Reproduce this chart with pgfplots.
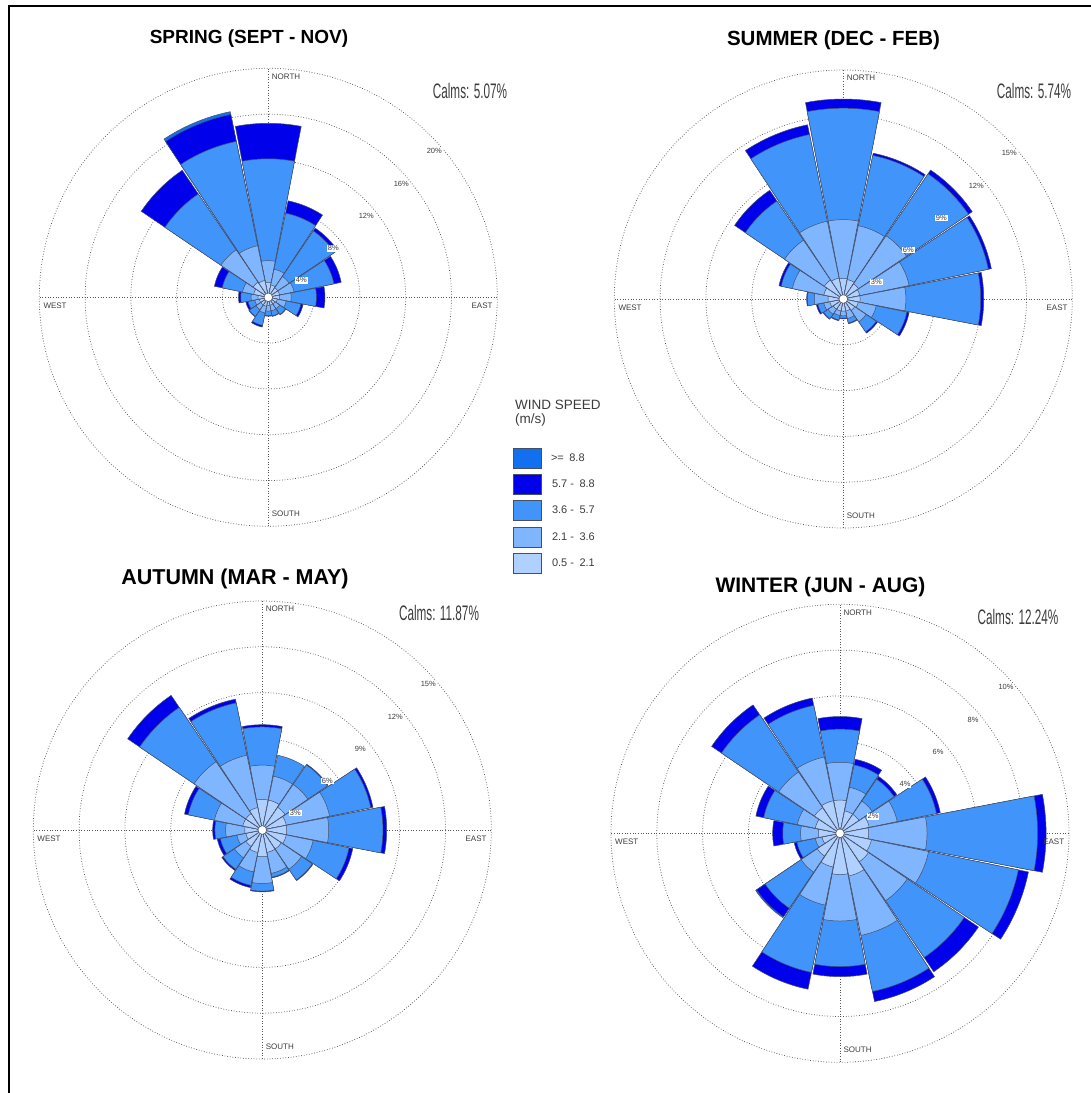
\documentclass[border=0pt]{standalone}
\usepackage{pgfplots}
\pgfplotsset{compat=1.18}
\usepackage{pgfplotstable}
\usepgfplotslibrary{polar}
\usepackage{fontspec}
\setmainfont{Liberation Sans}

\definecolor{binA}{RGB}{176,208,255}
\definecolor{binB}{RGB}{128,182,255}
\definecolor{binC}{RGB}{64,148,250}
\definecolor{binD}{RGB}{0,0,235}
\definecolor{binE}{RGB}{16,112,240}
\definecolor{edgec}{RGB}{70,80,100}
\definecolor{txt}{RGB}{60,60,60}
\definecolor{gridc}{RGB}{85,85,85}

% per-direction frequencies (%) of each speed class
% dir = compass bearing, b1: 0.5-2.1, b2: 2.1-3.6, b3: 3.6-5.7, b4: 5.7-8.8, b5: >=8.8
\pgfplotstableread{
dir   b1   b2   b3   b4   b5
0     1.3  1.9  8.9  3.1  0
22.5  1.1  1.4  5.0  1.1  0
45    1.0  1.2  4.8  0.3  0
67.5  1.0  1.3  3.55 0.65 0
90    1.0  1.0  2.2  0.75 0
112.5 0.8  0.8  1.3  0.2  0
135   0.7  0.5  0.6  0.05 0
157.5 0.7  0.5  0.45 0.05 0
180   0.7  0.5  0.4  0.05 0
202.5 0.8  0.6  1.1  0.15 0
225   0.8  0.5  0.7  0.05 0
247.5 0.8  0.4  0.6  0.2  0
270   0.9  0.6  0.9  0.2  0
292.5 1.3  1.0  1.8  0.7  0
315   1.6  3.4  5.9  2.5  0
337.5 1.5  3.1  9.3  2.4  0.25
}\springtbl

\pgfplotstableread{
dir   b1   b2   b3   b4   b5
0     1.35 3.85 7.3  0.6  0
22.5  1.3  3.6  4.7  0.15 0
45    1.2  3.8  4.9  0.3  0
67.5  1.1  3.3  5.3  0.2  0
90    1.1  3.0  4.9  0.2  0
112.5 1.0  1.2  2.05 0.15 0
135   0.9  0.9  0.8  0.1  0
157.5 0.8  0.5  0.3  0.05 0
180   0.8  0.3  0.15 0.05 0
202.5 0.8  0.3  0.3  0.05 0
225   0.8  0.4  0.35 0.05 0
247.5 0.9  0.4  0.4  0.1  0
270   1.0  0.9  0.45 0.05 0
292.5 1.3  2.1  0.75 0.15 0
315   1.5  3.15 3.1  0.85 0
337.5 1.4  3.8  5.8  0.65 0
}\summertbl

\pgfplotstableread{
dir   b1   b2   b3   b4   b5
0     2.0  2.25 2.5  0.15 0
22.5  2.0  1.6  1.4  0    0
45    1.8  1.8  1.55 0.05 0
67.5  1.6  2.9  2.75 0.15 0
90    1.6  2.75 3.55 0.25 0
112.5 1.6  1.8  2.4  0.25 0
135   1.5  1.6  0.85 0.05 0
157.5 1.5  1.4  0.25 0.05 0
180   1.75 1.75 0.5  0.05 0
202.5 1.5  1.3  0.9  0.15 0
225   1.3  0.9  0.9  0.1  0
247.5 1.1  0.6  1.1  0.2  0
270   1.15 1.25 0.7  0.15 0
292.5 1.3  1.9  1.75 0.25 0
315   1.3  4.1  4.3  0.95 0
337.5 1.5  3.5  3.5  0.25 0
}\autumntbl

\pgfplotstableread{
dir   b1   b2   b3   b4   b5
0     1.45 1.65 1.45 0.55 0
22.5  1.0  1.05 1.0  0.25 0
45    1.0  0.7  1.15 0.15 0
67.5  1.3  1.25 1.75 0.17 0
90    1.25 2.55 4.83 0.37 0
112.5 1.4  2.55 4.0  0.45 0
135   1.5  2.05 3.0  0.75 0
157.5 1.9  2.65 2.5  0.45 0
180   1.8  2.03 1.99 0.44 0
202.5 1.5  1.7  3.0  0.75 0
225   1.2  0.85 1.9  0.45 0.05
247.5 0.8  0.3  0.82 0.12 0
270   0.95 0.77 0.78 0.44 0
292.5 1.1  0.8  1.5  0.35 0
315   1.35 1.88 3.02 0.52 0
337.5 1.45 1.95 2.3  0.33 0
}\wintertbl

\def\rwhw{10.9}
% one sector from the centre out to radius #2, centred on polar angle #1
\newcommand\rosewedge[3]{%
  \gdef\rwpts{(0,0)}%
  \foreach \k in {0,...,12}{%
    \pgfmathsetmacro\rwa{#1-\rwhw+\k*\rwhw/6}%
    \xdef\rwpts{\rwpts (\rwa,#2)}%
  }%
  \xdef\rwpts{\rwpts (0,0)}%
  \edef\rwdo{\noexpand\addplot[fill=#3,draw=edgec,line width=0.5pt] coordinates {\rwpts};}%
  \rwdo
}
\newcommand\drawrose[1]{%
  \pgfplotsforeachungrouped \rwrow in {0,...,15}{%
    \pgfplotstablegetelem{\rwrow}{dir}\of{#1}\edef\rwdir{\pgfplotsretval}%
    \pgfplotstablegetelem{\rwrow}{b1}\of{#1}\edef\rwbA{\pgfplotsretval}%
    \pgfplotstablegetelem{\rwrow}{b2}\of{#1}\edef\rwbB{\pgfplotsretval}%
    \pgfplotstablegetelem{\rwrow}{b3}\of{#1}\edef\rwbC{\pgfplotsretval}%
    \pgfplotstablegetelem{\rwrow}{b4}\of{#1}\edef\rwbD{\pgfplotsretval}%
    \pgfplotstablegetelem{\rwrow}{b5}\of{#1}\edef\rwbE{\pgfplotsretval}%
    \pgfmathsetmacro\rwth{90-\rwdir}%
    \pgfmathsetmacro\rwcA{\rwbA}%
    \pgfmathsetmacro\rwcB{\rwcA+\rwbB}%
    \pgfmathsetmacro\rwcC{\rwcB+\rwbC}%
    \pgfmathsetmacro\rwcD{\rwcC+\rwbD}%
    \pgfmathsetmacro\rwcE{\rwcD+\rwbE}%
    \pgfmathtruncatemacro\rwf{\rwbE>0}\ifnum\rwf=1 \rosewedge{\rwth}{\rwcE}{binE}\fi
    \pgfmathtruncatemacro\rwf{\rwbD>0}\ifnum\rwf=1 \rosewedge{\rwth}{\rwcD}{binD}\fi
    \rosewedge{\rwth}{\rwcC}{binC}%
    \rosewedge{\rwth}{\rwcB}{binB}%
    \rosewedge{\rwth}{\rwcA}{binA}%
  }%
}

\pgfplotsset{
  windrose/.style={
    anchor=origin,
    scale only axis, width=458pt, height=458pt,
    xmin=0, xmax=360, ymin=0,
    xtick={0,90,180,270}, xticklabels={}, yticklabels={},
    grid=major,
    major grid style={line width=0.75pt, color=gridc, dash pattern=on 0.75pt off 1.9pt},
    axis line style={draw=none},
    tick style={draw=none},
    clip=false,
  },
  calmmark/.style={only marks, mark=*, mark size=4.3pt,
    mark options={fill=white, draw=edgec, line width=0.5pt}},
}

\newcommand\dirfont{\fontsize{8}{8}\selectfont}
\newcommand\ringfont{\fontsize{7.5}{7.5}\selectfont}
\newcommand\titlefont[1]{\fontsize{#1}{#1}\selectfont\bfseries}
\newcommand\calms[1]{\scalebox{0.56}[1]{\fontsize{21}{21}\selectfont #1}}

\begin{document}
\begin{tikzpicture}[x=1pt,y=1pt]
\path[use as bounding box] (0,0) rectangle (1091,-1093);
\draw[line width=2pt] (8.5,-1093) -- (8.5,-6) -- (1091,-6);

% ---------------- SPRING ----------------
\begin{polaraxis}[windrose, at={(268.3pt,-297.3pt)}, ymax=20, ytick={4,8,12,16,20}]
\drawrose{\springtbl}
\addplot[calmmark] coordinates {(0,0)};
\end{polaraxis}

% ---------------- SUMMER ----------------
\begin{polaraxis}[windrose, at={(843.3pt,-299pt)}, ymax=15, ytick={3,6,9,12,15}]
\drawrose{\summertbl}
\addplot[calmmark] coordinates {(0,0)};
\end{polaraxis}

% ---------------- AUTUMN ----------------
\begin{polaraxis}[windrose, at={(262.3pt,-830pt)}, ymax=15, ytick={3,6,9,12,15}]
\drawrose{\autumntbl}
\addplot[calmmark] coordinates {(0,0)};
\end{polaraxis}

% ---------------- WINTER ----------------
\begin{polaraxis}[windrose, at={(840pt,-833.3pt)}, ymax=10, ytick={2,4,6,8,10}]
\drawrose{\wintertbl}
\addplot[calmmark] coordinates {(0,0)};
\end{polaraxis}

% ---------------- legend ----------------
\begin{axis}[hide axis, scale only axis, width=20pt, height=20pt,
  at={(513pt,-448pt)}, anchor=north west, xmin=0, xmax=1, ymin=0, ymax=1,
  legend style={at={(0,1)}, anchor=north west, draw=none, fill=none,
    inner sep=0pt, row sep=5.3pt, font=\fontsize{11}{11}\selectfont, text=txt,
    cells={anchor=west}},
  legend image code/.code={\draw[#1] (0pt,-10pt) rectangle (28pt,10pt);}]
\addlegendimage{fill=binE, draw=edgec, line width=0.8pt}
\addlegendentry{\hspace*{7pt}>=\enspace 8.8}
\addlegendimage{fill=binD, draw=edgec, line width=0.8pt}
\addlegendentry{\hspace*{8pt}5.7 -\enspace 8.8}
\addlegendimage{fill=binC, draw=edgec, line width=0.8pt}
\addlegendentry{\hspace*{8pt}3.6 -\enspace 5.7}
\addlegendimage{fill=binB, draw=edgec, line width=0.8pt}
\addlegendentry{\hspace*{8pt}2.1 -\enspace 3.6}
\addlegendimage{fill=binA, draw=edgec, line width=0.8pt}
\addlegendentry{\hspace*{8pt}0.5 -\enspace 2.1}
\end{axis}
\node[anchor=base west, text=txt, font=\fontsize{13.5}{13.5}\selectfont] at (511.5,-409.5) {WIND SPEED};
\node[anchor=base west, text=txt, font=\fontsize{13.5}{13.5}\selectfont] at (511.5,-423) {(m/s)};

% ---------------- titles ----------------
\node[anchor=base, font=\titlefont{19}] at (249,-43) {SPRING (SEPT - NOV)};
\node[anchor=base, font=\titlefont{20.5}] at (833.5,-45) {SUMMER (DEC - FEB)};
\node[anchor=base, font=\titlefont{21.5}] at (235,-584) {AUTUMN (MAR - MAY)};
\node[anchor=base, font=\titlefont{21}] at (820.5,-592) {WINTER (JUN - AUG)};

% ---------------- calms ----------------
\node[text=txt] at (470,-91) {\calms{Calms: 5.07\%}};
\node[text=txt] at (1034,-91) {\calms{Calms: 5.74\%}};
\node[text=txt] at (439,-613) {\calms{Calms: 11.87\%}};
\node[text=txt] at (1018,-617) {\calms{Calms: 12.24\%}};

% ---------------- compass labels ----------------
\begin{scope}[every node/.style={font=\dirfont, text=txt, inner sep=0pt}]
\node[anchor=base west] at (271.7,-79) {NORTH};
\node[anchor=base west] at (271.7,-516.7) {SOUTH};
\node[anchor=base west] at (43.3,-308.3) {WEST};
\node[anchor=base east] at (492.7,-308.3) {EAST};
\node[anchor=base west] at (846.7,-80.7) {NORTH};
\node[anchor=base west] at (846.7,-518.4) {SOUTH};
\node[anchor=base west] at (618.3,-310) {WEST};
\node[anchor=base east] at (1067.7,-310) {EAST};
\node[anchor=base west] at (265.7,-611.7) {NORTH};
\node[anchor=base west] at (265.7,-1049.4) {SOUTH};
\node[anchor=base west] at (37.3,-841) {WEST};
\node[anchor=base east] at (486.7,-841) {EAST};
\node[anchor=base west] at (843.4,-615) {NORTH};
\node[anchor=base west] at (843.4,-1052.7) {SOUTH};
\node[anchor=base west] at (615,-844.3) {WEST};
\node[anchor=base east] at (1064.4,-844.3) {EAST};
\end{scope}

% ---------------- ring labels ----------------
\begin{scope}[every node/.style={font=\ringfont, text=txt, fill=white, inner sep=0.8pt}]
\node at (301.3,-280.3) {4\%};
\node at (333.3,-248.3) {8\%};
\node at (366.3,-216.3) {12\%};
\node at (401.3,-184.3) {16\%};
\node at (434.3,-151.3) {20\%};
\node at (876.3,-282) {3\%};
\node at (908.3,-250) {6\%};
\node at (941.3,-218) {9\%};
\node at (976.3,-186) {12\%};
\node at (1009.3,-153) {15\%};
\node at (295.3,-813) {3\%};
\node at (327.3,-781) {6\%};
\node at (360.3,-749) {9\%};
\node at (395.3,-717) {12\%};
\node at (428.3,-684) {15\%};
\node at (873,-816.3) {2\%};
\node at (905,-784.3) {4\%};
\node at (938,-752.3) {6\%};
\node at (973,-720.3) {8\%};
\node at (1006,-687.3) {10\%};
\end{scope}
\end{tikzpicture}
\end{document}
